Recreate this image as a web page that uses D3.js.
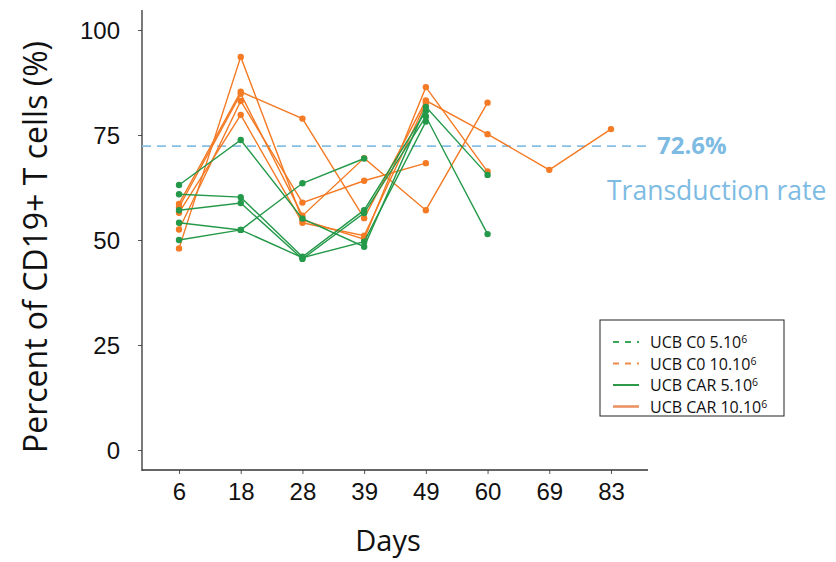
<!DOCTYPE html>
<html>
<head>
<meta charset="utf-8">
<script src="https://cdn.jsdelivr.net/npm/d3@7"></script>
<style>
  body { margin: 0; background: #fff; }
  svg { font-family: "Open Sans", Lato, sans-serif; }
</style>
</head>
<body>
<svg id="chart" width="836" height="562"></svg>
<script>
// days on the x axis (categorical)
const days = [6, 18, 28, 39, 49, 60, 69, 83];
const yTicks = [0, 25, 50, 75, 100];
const transductionRate = 72.6;

// UCB CAR 10.10^6 (orange) - one array per mouse, by day index
const car10 = [
    [58.6, 85.3, 78.9, 55.2, 83.2, 75.2, 66.7, 76.4],
    [48.0, 93.6, 54.8, 50.2, 86.4, 66.3],
    [52.5, 83.1, 58.9, 64.1, 68.3],
    [57.8, 84.8, 55.8, 69.5, 57.1, 82.7],
    [56.5, 79.8, 54.1, 51.0, 82.6]
];

// UCB CAR 5.10^6 (green)
const car5 = [
    [63.1, 73.8, 55.1, 48.4, 81.7, 65.5],
    [60.9, 60.2, 46.0, 57.1, 80.7],
    [57.1, 58.8, 45.5, 56.4, 79.4, 51.4],
    [54.1, 52.4, 63.5, 69.4],
    [50.0, 52.4, 45.8, 49.6, 78.2]
];

const legendItems = [
    {label: "UCB C0 5.10", color: "#3aa655", dash: "6,6"},
    {label: "UCB C0 10.10", color: "#f08a4b", dash: "6,6"},
    {label: "UCB CAR 5.10", color: "#2e9a48", dash: null},
    {label: "UCB CAR 10.10", color: "#ec9463", dash: null}
];

const ORANGE = "#f47a24", GREEN = "#24994a", BLUE = "#86bfe4";

const svg = d3.select("#chart");

const x = d3.scalePoint()
    .domain(days)
    .range([142, 648])
    .padding(0.6);

const y = d3.scaleLinear()
    .domain([0, 100])
    .range([450, 30]);

// axes
const yAxis = svg.append("g")
    .attr("transform", "translate(142,0)")
    .call(d3.axisLeft(y).tickValues(yTicks).tickSize(4).tickPadding(18));
yAxis.select(".domain").remove();
yAxis.selectAll("line").attr("stroke", "#555");
yAxis.selectAll("text").style("font-size", "24px").attr("fill", "#111").attr("dy", "0.35em");

const xAxis = svg.append("g")
    .attr("transform", "translate(0,470)")
    .call(d3.axisBottom(x).tickSize(4).tickPadding(9));
xAxis.select(".domain").remove();
xAxis.selectAll("line").attr("stroke", "#555");
xAxis.selectAll("text").style("font-size", "24px").attr("fill", "#111");

// axis lines
svg.append("line").attr("x1", 142).attr("x2", 142).attr("y1", 10).attr("y2", 471)
    .attr("stroke", "#333").attr("stroke-width", 1.3);
svg.append("line").attr("x1", 142).attr("x2", 648).attr("y1", 470).attr("y2", 470)
    .attr("stroke", "#333").attr("stroke-width", 1.3);

// axis titles
svg.append("text")
    .attr("transform", "translate(47,247) rotate(-90)")
    .attr("text-anchor", "middle")
    .style("font-size", "32px")
    .attr("fill", "#111")
    .text("Percent of CD19+ T cells (%)");

svg.append("text")
    .attr("x", 388).attr("y", 551)
    .attr("text-anchor", "middle")
    .style("font-size", "29px")
    .attr("fill", "#111")
    .text("Days");

// transduction rate reference
svg.append("line")
    .attr("x1", 142).attr("x2", 652)
    .attr("y1", y(transductionRate) + 1).attr("y2", y(transductionRate) + 1)
    .attr("stroke", BLUE).attr("stroke-width", 1.6)
    .attr("stroke-dasharray", "9,6");

svg.append("text")
    .attr("x", 657).attr("y", y(transductionRate) + 9)
    .style("font-size", "24px").style("font-weight", "bold")
    .attr("fill", "#7dbbe3")
    .text(transductionRate + "%");

svg.append("text")
    .attr("x", 607).attr("y", 200)
    .style("font-size", "26.5px")
    .attr("fill", "#7dbbe3")
    .text("Transduction rate");

// series
const line = d3.line()
    .x((d, i) => x(days[i]))
    .y(d => y(d));

function drawGroup(data, color) {
    const g = svg.append("g");
    g.selectAll("path")
        .data(data)
        .join("path")
        .attr("d", line)
        .attr("fill", "none")
        .attr("stroke", color)
        .attr("stroke-width", 1.4);
    g.selectAll("g")
        .data(data)
        .join("g")
        .selectAll("circle")
        .data(d => d)
        .join("circle")
        .attr("cx", (d, i) => x(days[i]))
        .attr("cy", d => y(d))
        .attr("r", 3.2)
        .attr("fill", color);
}

drawGroup(car10, ORANGE);
drawGroup(car5, GREEN);

// legend
const legend = svg.append("g").attr("transform", "translate(600,320)");
legend.append("rect")
    .attr("width", 184).attr("height", 96)
    .attr("fill", "#fff").attr("stroke", "#222").attr("stroke-width", 1);

const item = legend.selectAll("g")
    .data(legendItems)
    .join("g")
    .attr("transform", (d, i) => `translate(0,${22 + i * 21.5})`);

item.append("line")
    .attr("x1", 13).attr("x2", 39)
    .attr("stroke", d => d.color)
    .attr("stroke-width", (d, i) => i === 3 ? 2.6 : 2)
    .attr("stroke-dasharray", d => d.dash);

const label = item.append("text")
    .attr("x", 50).attr("y", 6)
    .style("font-size", "16px")
    .attr("fill", "#111")
    .text(d => d.label);
label.append("tspan")
    .attr("dy", -5)
    .style("font-size", "10.5px")
    .text("6");
</script>
</body>
</html>
